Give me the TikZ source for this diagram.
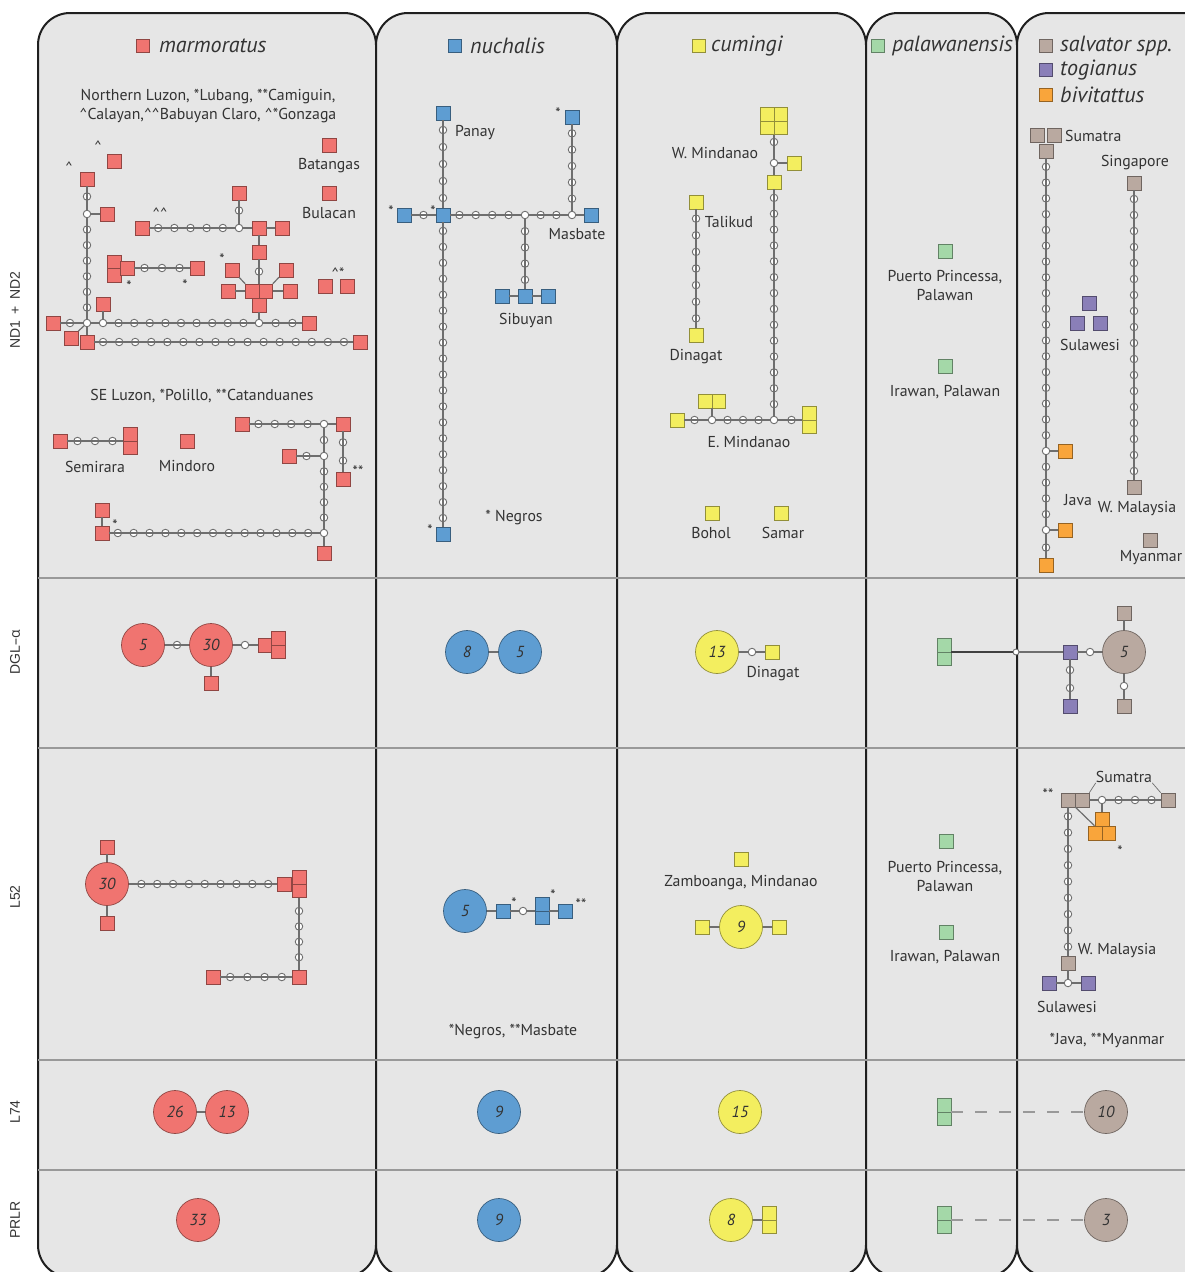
\documentclass[tikz,border=0pt]{standalone}
\usepackage{fontspec}
\setmainfont{PT Sans}
\newfontfamily\grkfont{Open Sans}
\newfontfamily\rowfont{Liberation Sans}
\usetikzlibrary{calc}

\definecolor{mar}{HTML}{F07470}
\definecolor{nuc}{HTML}{5E9DD2}
\definecolor{cum}{HTML}{F3EE5F}
\definecolor{pal}{HTML}{A4D8A8}
\definecolor{sal}{HTML}{B9A9A0}
\definecolor{tog}{HTML}{8A7FB8}
\definecolor{biv}{HTML}{F9A53B}
\definecolor{panelgray}{HTML}{E6E6E6}
\definecolor{linegray}{HTML}{6E6E6E}
\definecolor{txt}{HTML}{333333}

\newcommand{\crt}{\textasciicircum}
% median vectors between two nodes
\newcommand{\chain}[4]{%
  \foreach \i in {1,...,#4}{
    \pgfmathsetmacro\fr{\i/(#4+1)}
    \node[mv] (#1\i) at ($(#2)!\fr!(#3)$) {};
  }
  \draw[link] (#2) \foreach \i in {1,...,#4}{ -- (#1\i)} -- (#3);
}

\tikzset{
  panel/.style={draw=black!88, fill=panelgray, line width=2pt, rounded corners=32pt},
  divider/.style={draw=black!40, line width=1.2pt},
  hap/.style={draw=#1!60!black, fill=#1, minimum size=14pt, inner sep=0pt, line width=0.6pt},
  hapv/.style={hap=#1, minimum width=14pt, minimum height=27pt,
    path picture={\draw[#1!60!black, line width=0.6pt] (path picture bounding box.west) -- (path picture bounding box.east);}},
  haph/.style={hap=#1, minimum width=27pt, minimum height=14pt,
    path picture={\draw[#1!60!black, line width=0.6pt] (path picture bounding box.north) -- (path picture bounding box.south);}},
  hapq/.style={hap=#1, minimum size=27pt,
    path picture={\draw[#1!60!black, line width=0.6pt] (path picture bounding box.north) -- (path picture bounding box.south)
      (path picture bounding box.west) -- (path picture bounding box.east);}},
  big/.style={circle, draw=#1!60!black, fill=#1, minimum size=43pt, inner sep=0pt, line width=0.7pt,
    font=\itshape\fontsize{16}{16}\selectfont, text=txt},
  mv/.style={circle, draw=linegray, fill=white, minimum size=7.5pt, inner sep=0pt, line width=0.9pt},
  link/.style={draw=linegray, line width=1.2pt},
  dashlink/.style={draw=black!40, line width=2.2pt, dash pattern=on 12pt off 12pt},
  place/.style={font=\fontsize{15.8}{19}\selectfont, text=txt, align=center, inner sep=0pt},
  tag/.style={font=\fontsize{15}{15}\selectfont, text=txt, inner sep=0pt},
  sp/.style={font=\itshape\fontsize{22}{22}\selectfont, text=txt, anchor=west, inner sep=0pt},
  key/.style={hap=#1, minimum size=13pt},
  rowlab/.style={rotate=90, font=\rowfont\fontsize{14}{14}\selectfont, text=txt, inner sep=0pt}
}

\begin{document}
\begin{tikzpicture}[x=1pt, y=-1pt]
	\useasboundingbox (0,0) rectangle (1185,1272);
	\fill[white] (0,0) rectangle (1185,1272);
	
	%panels
	\foreach \xa/\xb in {38/376, 376/617, 617/866, 866/1017, 1017/1240}{
		\draw[panel] (\xa,13) rectangle (\xb,1277);
	}
	\foreach \y in {578, 748, 1060, 1170}{
		\draw[divider] (38,\y) -- (1185,\y);
	}
	
	%row labels
	\node[rowlab] (rND) at (15,310) {ND1 \,+\, ND2};
	\node[rowlab] (rDGL) at (15,652) {DGL{\grkfont –α}};
	\node[rowlab] (rL52) at (15,897) {L52};
	\node[rowlab] (rL74) at (15,1112) {L74};
	\node[rowlab] (rPRLR) at (15,1220) {PRLR};
	
	%legend
	\node[key=mar] (kMar) at (143,46) {};
	\node[sp] (tMar) at (159,46) {marmoratus};
	\node[key=nuc] (kNuc) at (455,46) {};
	\node[sp] (tNuc) at (470,46) {nuchalis};
	\node[key=cum] (kCum) at (699,46) {};
	\node[sp] (tCum) at (711,46) {cumingi};
	\node[key=pal] (kPal) at (878,46) {};
	\node[sp] (tPal) at (892,46) {palawanensis};
	\node[key=sal] (kSal) at (1046,46) {};
	\node[sp] (tSal) at (1060,46) {salvator spp.};
	\node[key=tog] (kTog) at (1046,70) {};
	\node[sp] (tTog) at (1060,70) {togianus};
	\node[key=biv] (kBiv) at (1046,95) {};
	\node[sp] (tBiv) at (1060,95) {bivitattus};
	
	%marmoratus, ND1 + ND2
	\node[place] (tNL) at (208,106) {Northern Luzon, *Lubang, **Camiguin,\\\crt{}Calayan,\crt\crt{}Babuyan Claro, \crt*Gonzaga};
	\node[tag] (k1) at (98,146) {\crt};
	\node[tag] (k2) at (69,167) {\crt};
	\node[hap=mar] (mA) at (114,161) {};
	\node[hap=mar] (mB) at (87,179) {};
	\node[mv] (mJ1) at (87,214) {};
	\node[mv] (mJ2) at (87,323) {};
	\node[hap=mar] (mC) at (107,214) {};
	\draw[link] (mJ1) -- (mC);
	\chain{mb}{mB}{mJ1}{1}
	\chain{mc}{mJ1}{mJ2}{6}
	
	\node[hap=mar] (mD) at (53,323) {};
	\node[mv] (mJ3) at (103,323) {};
	\node[mv] (mJ4) at (259,323) {};
	\node[hap=mar] (mE) at (103,304) {};
	\node[hap=mar] (mF) at (309,323) {};
	\chain{md}{mD}{mJ2}{1}
	\draw[link] (mJ2) -- (mJ3);
	\draw[link] (mJ3) -- (mE);
	\chain{me}{mJ3}{mJ4}{9}
	\chain{mf}{mJ4}{mF}{2}
	
	\node[hap=mar] (mG) at (87,342) {};
	\node[hap=mar] (mH) at (71,338) {};
	\node[hap=mar] (mI) at (360,342) {};
	\draw[link] (mJ2) -- (mG);
	\draw[link] (mJ2) -- (mH);
	\chain{mg}{mG}{mI}{16}
	
	\node[tag] (k3) at (160,213) {\crt\crt};
	\node[hap=mar] (mK) at (142,228) {};
	\node[mv] (mJ5) at (239,228) {};
	\node[hap=mar] (mL) at (239,193) {};
	\chain{mh}{mK}{mJ5}{5}
	\chain{mi}{mJ5}{mL}{1}
	\node[hap=mar] (mM) at (259,228) {};
	\node[hap=mar] (mN) at (282,228) {};
	\draw[link] (mJ5) -- (mM) -- (mN);
	\node[hap=mar] (mO) at (259,252) {};
	\node[haph=mar] (mP) at (259,291) {};
	\node[hap=mar] (mQ) at (259,305) {};
	\draw[link] (mM) -- (mO);
	\chain{mk}{mO}{mP}{1}
	\draw[link] (mQ) -- (mJ4);
	\node[hap=mar] (mR) at (228,291) {};
	\node[hap=mar] (mS) at (290,291) {};
	\node[hap=mar] (mT) at (232,270) {};
	\node[hap=mar] (mU) at (286,270) {};
	\draw[link] (mR) -- (mP) -- (mS);
	\draw[link] (mT) -- (mP.north west);
	\draw[link] (mU) -- (mP.north east);
	\node[tag] (k4) at (222,259) {*};
	
	\node[hapv=mar] (mV) at (114,268.5) {};
	\node[hap=mar] (mW) at (127,268) {};
	\node[hap=mar] (mX) at (197,268) {};
	\chain{ml}{mW}{mX}{3}
	\node[tag] (k5) at (129,286) {*};
	\node[tag] (k6) at (185,285) {*};
	
	\node[tag] (k7) at (338,273) {\crt*};
	\node[hap=mar] (mY) at (325,286) {};
	\node[hap=mar] (mZ) at (347,286) {};
	\node[hap=mar] (mBa) at (329,145) {};
	\node[place] (tBa) at (329,166) {Batangas};
	\node[hap=mar] (mBu) at (329,193) {};
	\node[place] (tBu) at (329,213) {Bulacan};
	
	%marmoratus, SE Luzon
	\node[place] (tSE) at (202,396) {SE Luzon, *Polillo, **Catanduanes};
	\node[hap=mar] (sA) at (60,441) {};
	\node[hapv=mar] (sB) at (130,441) {};
	\chain{sa}{sA}{sB}{3}
	\node[place] (tSem) at (95,467) {Semirara};
	\node[hap=mar] (sM) at (187,441) {};
	\node[place] (tMin) at (187,466) {Mindoro};
	\node[hap=mar] (sC) at (242,424) {};
	\node[mv] (sJ1) at (324,424) {};
	\node[hap=mar] (sD) at (343,424) {};
	\chain{sb}{sC}{sJ1}{4}
	\draw[link] (sJ1) -- (sD);
	\node[hap=mar] (sE) at (343,479) {};
	\chain{sc}{sD}{sE}{2}
	\node[tag] (k8) at (358,471) {**};
	\node[mv] (sJ2) at (324,456) {};
	\node[mv] (sJ3) at (324,533) {};
	\node[hap=mar] (sF) at (324,553) {};
	\chain{sd}{sJ1}{sJ2}{1}
	\chain{se}{sJ2}{sJ3}{4}
	\draw[link] (sJ3) -- (sF);
	\node[hap=mar] (sG) at (289,456) {};
	\chain{sf}{sJ2}{sG}{1}
	\node[hap=mar] (sH) at (102,533) {};
	\node[hap=mar] (sI) at (102,510) {};
	\draw[link] (sH) -- (sI);
	\chain{sg}{sH}{sJ3}{13}
	\node[tag] (k9) at (115,525) {*};
	
	%nuchalis, ND1 + ND2
	\node[hap=nuc] (nA) at (443,113) {};
	\node[hap=nuc] (nB) at (443,215) {};
	\node[hap=nuc] (nC) at (443,534) {};
	\chain{na}{nA}{nB}{5}
	\chain{nb}{nB}{nC}{19}
	\node[place] (tPan) at (475,133) {Panay};
	\node[tag] (k10) at (430,530) {*};
	\node[hap=nuc] (nD) at (404,215) {};
	\chain{nc}{nD}{nB}{1}
	\node[tag] (k11) at (391,211) {*};
	\node[tag] (k12) at (433,211) {*};
	\node[mv] (nJ1) at (525,215) {};
	\node[mv] (nJ2) at (572,215) {};
	\node[hap=nuc] (nE) at (591,215) {};
	\chain{nd}{nB}{nJ1}{4}
	\chain{ne}{nJ1}{nJ2}{2}
	\draw[link] (nJ2) -- (nE);
	\node[hap=nuc] (nF) at (572,117) {};
	\chain{nf}{nJ2}{nF}{5}
	\node[tag] (k13) at (558,113) {*};
	\node[hap=nuc] (nG) at (525,296) {};
	\chain{ng}{nJ1}{nG}{4}
	\node[hap=nuc] (nH) at (502,296) {};
	\node[hap=nuc] (nI) at (548,296) {};
	\draw[link] (nH) -- (nG) -- (nI);
	\node[place] (tMas) at (577,234) {Masbate};
	\node[place] (tSib) at (526,320) {Sibuyan};
	\node[place] (tNeg) at (514,518) {* Negros};
	
	%cumingi, ND1 + ND2
	\node[hapq=cum] (cA) at (774,121) {};
	\node[mv] (cJ1) at (774,163) {};
	\node[hap=cum] (cB) at (774,182) {};
	\node[hap=cum] (cC) at (794,163) {};
	\chain{ca}{cA}{cJ1}{1}
	\draw[link] (cJ1) -- (cB);
	\draw[link] (cJ1) -- (cC);
	\node[mv] (cJ2) at (774,420) {};
	\chain{cb}{cB}{cJ2}{14}
	\node[place] (tWMin) at (715,153) {W. Mindanao};
	\node[hap=cum] (cD) at (696,202) {};
	\node[hap=cum] (cE) at (696,335) {};
	\chain{cc}{cD}{cE}{7}
	\node[place] (tTal) at (729,222) {Talikud};
	\node[place] (tDin) at (696,357) {Dinagat};
	\node[hap=cum] (cF) at (677,420) {};
	\node[mv] (cJ3) at (712,420) {};
	\node[hapv=cum] (cG) at (809,420) {};
	\chain{cd}{cF}{cJ3}{1}
	\chain{ce}{cJ3}{cJ2}{3}
	\chain{cf}{cJ2}{cG}{1}
	\node[haph=cum] (cH) at (712,401) {};
	\draw[link] (cJ3) -- (cH);
	\node[place] (tEMin) at (749,442) {E. Mindanao};
	\node[hap=cum] (cI) at (712,513) {};
	\node[place] (tBoh) at (711,533) {Bohol};
	\node[hap=cum] (cK) at (781,513) {};
	\node[place] (tSam) at (783,533) {Samar};
	
	%palawanensis, ND1 + ND2
	\node[hap=pal] (pA) at (945,251) {};
	\node[place] (tPP) at (945,285) {Puerto Princessa,\\Palawan};
	\node[hap=pal] (pB) at (945,366) {};
	\node[place] (tIra) at (945,392) {Irawan, Palawan};
	
	%salvator, togianus, bivitattus, ND1 + ND2
	\node[hap=sal] (gA) at (1037,135) {};
	\node[hap=sal] (gB) at (1054,135) {};
	\node[hap=sal] (gC) at (1046,151) {};
	\node[place, anchor=west] (tSum) at (1065,136) {Sumatra};
	\node[mv] (gJ1) at (1046,451) {};
	\node[mv] (gJ2) at (1046,530) {};
	\node[hap=biv] (bA) at (1065,451) {};
	\node[hap=biv] (bB) at (1065,530) {};
	\node[hap=biv] (bC) at (1046,565) {};
	\chain{ga}{gC}{gJ1}{18}
	\chain{gb}{gJ1}{gJ2}{4}
	\chain{gc}{gJ2}{bC}{1}
	\draw[link] (gJ1) -- (bA);
	\draw[link] (gJ2) -- (bB);
	\node[hap=sal] (gD) at (1134,183) {};
	\node[hap=sal] (gE) at (1134,487) {};
	\chain{gd}{gD}{gE}{18}
	\node[place] (tSing) at (1135,163) {Singapore};
	\node[place] (tWMal) at (1137,509) {W. Malaysia};
	\node[place] (tJava) at (1078,500) {Java};
	\node[hap=sal] (gF) at (1150,540) {};
	\node[place] (tMya) at (1151,558) {Myanmar};
	\node[hap=tog] (uA) at (1089,303) {};
	\node[hap=tog] (uB) at (1077,323) {};
	\node[hap=tog] (uC) at (1100,323) {};
	\node[place] (tSul) at (1090,345) {Sulawesi};
	
	%DGL-alpha
	\node[big=mar] (dA) at (143,645) {5};
	\node[big=mar] (dB) at (211,645) {30};
	\chain{da}{dA}{dB}{1}
	\node[mv] (db1) at (245,645) {};
	\node[hap=mar] (dC) at (265,645) {};
	\node[hapv=mar] (dD) at (278,645) {};
	\draw[link] (dB) -- (db1) -- (dC);
	\node[hap=mar] (dE) at (211,683) {};
	\draw[link] (dB) -- (dE);
	\node[big=nuc] (dF) at (467,652) {8};
	\node[big=nuc] (dG) at (520,652) {5};
	\draw[link] (dF) -- (dG);
	\node[big=cum] (dH) at (717,652) {13};
	\node[mv] (dh1) at (752,652) {};
	\node[hap=cum] (dI) at (772,652) {};
	\draw[link] (dH) -- (dh1) -- (dI);
	\node[place] (tDin2) at (773,674) {Dinagat};
	\node[hapv=pal] (dK) at (944,652) {};
	\node[mv, minimum size=6pt] (dk1) at (1016,652) {};
	\node[hap=tog] (dL) at (1070,652) {};
	\node[mv] (dl1) at (1090,652) {};
	\node[big=sal] (dM) at (1124,652) {5};
	\draw[link, draw=black!75] (dK) -- (dk1);
	\draw[link] (dk1) -- (dL) -- (dl1) -- (dM);
	\node[hap=sal] (dN) at (1124,613) {};
	\draw[link] (dM) -- (dN);
	\node[mv] (dm1) at (1124,686) {};
	\node[hap=sal] (dO) at (1124,706) {};
	\draw[link] (dM) -- (dm1) -- (dO);
	\node[hap=tog] (dP) at (1070,706) {};
	\chain{dd}{dL}{dP}{2}
	
	%L52
	\node[big=mar] (lA) at (107,884) {30};
	\node[hap=mar] (lB) at (107,847) {};
	\node[hap=mar] (lC) at (107,923) {};
	\draw[link] (lB) -- (lA) -- (lC);
	\node[hap=mar] (lD) at (284,884) {};
	\node[hapv=mar] (lE) at (299,884) {};
	\foreach \i in {1,...,9}{
		\node[mv] (la\i) at (125.5+15.85*\i,884) {};
	}
	\draw[link] (lA) \foreach \i in {1,...,9}{ -- (la\i)} -- (lD);
	\node[hap=mar] (lF) at (299,977) {};
	\foreach \i in {1,...,4}{
		\node[mv] (lb\i) at (299,895.6+15.4*\i) {};
	}
	\draw[link] (lE) \foreach \i in {1,...,4}{ -- (lb\i)} -- (lF);
	\node[hap=mar] (lG) at (213,977) {};
	\chain{lc}{lG}{lF}{4}
	
	\node[big=nuc] (lH) at (465,911) {5};
	\node[hap=nuc] (lI) at (503,911) {};
	\node[mv] (li1) at (523,911) {};
	\node[hapv=nuc] (lK) at (542,911) {};
	\node[hap=nuc] (lL) at (565,911) {};
	\draw[link] (lH) -- (lI) -- (li1) -- (lK) -- (lL);
	\node[tag] (k14) at (514,903) {*};
	\node[tag] (k15) at (553,895) {*};
	\node[tag] (k16) at (581,904) {**};
	\node[place] (tNM) at (513,1032) {*Negros, **Masbate};
	
	\node[hap=cum] (lM) at (741,859) {};
	\node[place] (tZam) at (741,883) {Zamboanga, Mindanao};
	\node[big=cum] (lN) at (741,927) {9};
	\node[hap=cum] (lO) at (702,927) {};
	\node[hap=cum] (lP) at (779,927) {};
	\draw[link] (lO) -- (lN) -- (lP);
	
	\node[hap=pal] (lQ) at (946,841) {};
	\node[place] (tPP2) at (945,876) {Puerto Princessa,\\Palawan};
	\node[hap=pal] (lR) at (946,932) {};
	\node[place] (tIra2) at (945,957) {Irawan, Palawan};
	
	\node[tag] (k17) at (1048,794) {**};
	\node[hap=sal] (lS) at (1068,800) {};
	\node[hap=sal] (lT) at (1082,800) {};
	\node[mv] (lJ) at (1102,800) {};
	\node[hap=sal] (lU) at (1168,800) {};
	\draw[link] (lT) -- (lJ);
	\chain{ld}{lJ}{lU}{3}
	\node[hap=biv] (lV) at (1102,819) {};
	\node[haph=biv] (lW) at (1102,833) {};
	\draw[link] (lJ) -- (lV);
	\draw[link] (lS) -- (lW);
	\node[tag] (k18) at (1120,851) {*};
	\node[place] (tSum2) at (1124,777) {Sumatra};
	\draw[link, line width=0.7pt] (tSum2.south west) -- (lT.north east);
	\draw[link, line width=0.7pt] (tSum2.south east) -- (lU.north west);
	\node[hap=sal] (lX) at (1068,963) {};
	\chain{le}{lS}{lX}{9}
	\node[mv] (lY) at (1068,983) {};
	\node[hap=tog] (lZ) at (1049,983) {};
	\node[hap=tog] (lZb) at (1088,983) {};
	\draw[link] (lX) -- (lY);
	\draw[link] (lZ) -- (lY) -- (lZb);
	\node[place] (tWMal2) at (1117,951) {W. Malaysia};
	\node[place] (tSul2) at (1067,1007) {Sulawesi};
	\node[place] (tJM) at (1107,1040) {*Java, **Myanmar};
	
	%L74
	\node[big=mar] (eA) at (175,1112) {26};
	\node[big=mar] (eB) at (227,1112) {13};
	\draw[link] (eA) -- (eB);
	\node[big=nuc] (eC) at (499,1112) {9};
	\node[big=cum] (eD) at (740,1112) {15};
	\node[hapv=pal] (eE) at (944,1112) {};
	\node[big=sal] (eF) at (1106,1112) {10};
	\draw[dashlink] (eE) -- (eF);
	
	%PRLR
	\node[big=mar] (fA) at (198,1220) {33};
	\node[big=nuc] (fB) at (499,1220) {9};
	\node[big=cum] (fC) at (731,1220) {8};
	\node[hapv=cum] (fD) at (769,1220) {};
	\draw[link] (fC) -- (fD);
	\node[hapv=pal] (fE) at (944,1220) {};
	\node[big=sal] (fF) at (1106,1220) {3};
	\draw[dashlink] (fE) -- (fF);
\end{tikzpicture}
\end{document}
